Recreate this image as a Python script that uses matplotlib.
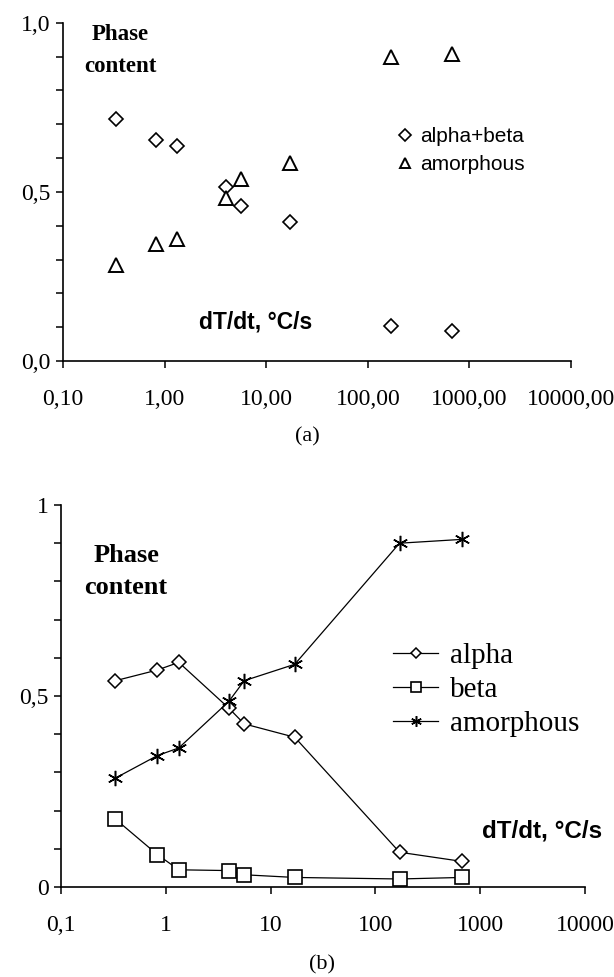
import matplotlib
matplotlib.use("Agg")
import matplotlib.pyplot as plt
from matplotlib.ticker import FixedLocator, MultipleLocator, NullLocator

# cooling rate dT/dt, degC/s (same points in both panels)
rate = [0.33, 0.83, 1.33, 4.0, 5.6, 17.0, 170.0, 670.0]

# (a) phase content
alpha_beta = [0.716, 0.654, 0.637, 0.515, 0.458, 0.412, 0.104, 0.089]
amorph_a = [0.284, 0.345, 0.362, 0.482, 0.537, 0.586, 0.899, 0.908]

# (b) phase content
alpha = [0.540, 0.568, 0.588, 0.468, 0.427, 0.392, 0.091, 0.067]
beta = [0.178, 0.085, 0.045, 0.043, 0.032, 0.025, 0.021, 0.025]
amorph_b = [0.285, 0.344, 0.364, 0.486, 0.540, 0.583, 0.900, 0.910]

xticks = [0.1, 1, 10, 100, 1000, 10000]
xlabels_a = ["0,10", "1,00", "10,00", "100,00", "1000,00", "10000,00"]
xlabels_b = ["0,1", "1", "10", "100", "1000", "10000"]
yticks = [0.0, 0.5, 1.0]
ylabels_a = ["0,0", "0,5", "1,0"]
ylabels_b = ["0", "0,5", "1"]

W, H = 614, 977
fig = plt.figure(figsize=(W / 100, H / 100), dpi=100)
serif = "Liberation Serif"
sans = "Liberation Sans"


def px_axes(left, right, top, bottom):
    # pixel box -> figure fractions
    return [left / W, 1 - bottom / H, (right - left) / W, (bottom - top) / H]


def style(ax, xl, yl, fs):
    ax.set_xscale("log")
    ax.set_xlim(0.1, 10000)
    ax.set_ylim(0, 1)
    for s in ["top", "right"]:
        ax.spines[s].set_visible(False)
    for s in ["left", "bottom"]:
        ax.spines[s].set_linewidth(1.2)
    ax.xaxis.set_major_locator(FixedLocator(xticks))
    ax.xaxis.set_minor_locator(NullLocator())
    ax.set_xticklabels(xl, fontfamily=serif, fontsize=fs)
    ax.yaxis.set_major_locator(FixedLocator(yticks))
    ax.yaxis.set_minor_locator(MultipleLocator(0.1))
    ax.set_yticklabels(yl, fontfamily=serif, fontsize=fs)
    ax.tick_params(which="both", direction="out", length=5, width=1.1, color="black")
    ax.tick_params(axis="x", pad=15)
    ax.tick_params(axis="y", pad=4)


# ---- (a) ----
ax1 = fig.add_axes(px_axes(63, 571, 22.7, 361))
style(ax1, xlabels_a, ylabels_a, 17)
ax1.plot(rate, alpha_beta, linestyle="none", marker="D", ms=7.5, mfc="white",
         mec="black", mew=1.2, label="alpha+beta", clip_on=False)
ax1.plot(rate, amorph_a, linestyle="none", marker="^", ms=9.5, mfc="white",
         mec="black", mew=1.4, label="amorphous", clip_on=False)
ax1.legend(loc="center left", bbox_to_anchor=(0.654, 0.622), frameon=False,
           numpoints=1, handlelength=0.9, handletextpad=0.3, borderpad=0,
           borderaxespad=0, labelspacing=0.45, markerscale=0.8,
           prop={"family": sans, "size": 15})
fig.text(120 / W, 1 - 35 / H, "Phase", ha="center", va="center",
         fontfamily=serif, fontweight="bold", fontsize=16.5)
fig.text(120 / W, 1 - 67 / H, "content", ha="center", va="center",
         fontfamily=serif, fontweight="bold", fontsize=16.5)
fig.text(256 / W, 1 - 322 / H, "dT/dt, °C/s", ha="center", va="center",
         fontfamily=sans, fontweight="bold", fontsize=16.5)
fig.text(307 / W, 1 - 437 / H, "(a)", ha="center", va="center",
         fontfamily=serif, fontsize=16)

# ---- (b) ----
ax2 = fig.add_axes(px_axes(61, 585, 505, 887))
style(ax2, xlabels_b, ylabels_b, 17)
ax2.plot(rate, alpha, color="black", lw=0.9, marker="D", ms=7.5, mfc="white",
         mec="black", mew=1.1, label="alpha", clip_on=False)
ax2.plot(rate, beta, color="black", lw=0.9, marker="s", ms=9.5, mfc="white",
         mec="black", mew=1.2, label="beta", clip_on=False)
ax2.plot(rate, amorph_b, color="black", lw=0.9, marker=(6, 2, 0), ms=11,
         mec="black", mew=1.1, label="amorphous", clip_on=False)
ax2.legend(loc="center left", bbox_to_anchor=(0.634, 0.516), frameon=False,
           numpoints=1, handlelength=1.55, handletextpad=0.4, borderpad=0,
           borderaxespad=0, labelspacing=0.25, markerscale=0.7,
           prop={"family": serif, "size": 21})
fig.text(126 / W, 1 - 555 / H, "Phase", ha="center", va="center",
         fontfamily=serif, fontweight="bold", fontsize=19)
fig.text(126 / W, 1 - 588 / H, "content", ha="center", va="center",
         fontfamily=serif, fontweight="bold", fontsize=19)
fig.text(542 / W, 1 - 831 / H, "dT/dt, °C/s", ha="center", va="center",
         fontfamily=sans, fontweight="bold", fontsize=17.5)
fig.text(322 / W, 1 - 965 / H, "(b)", ha="center", va="center",
         fontfamily=serif, fontsize=16)

fig.savefig("out.png", dpi=100)
